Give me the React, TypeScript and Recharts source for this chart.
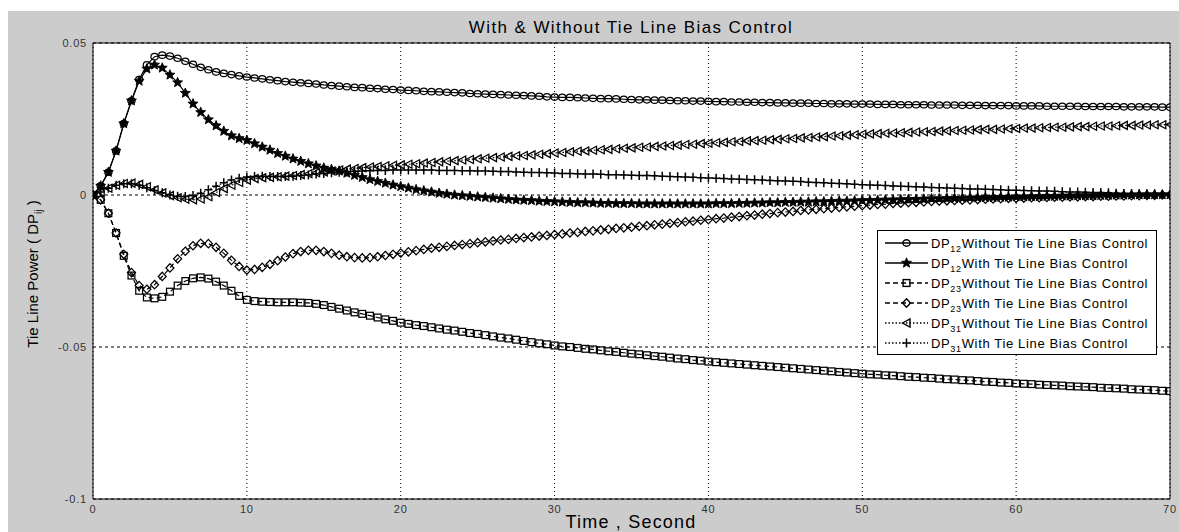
import React from 'react';
import { LineChart, Line, XAxis, YAxis, CartesianGrid, ReferenceLine } from 'recharts';

const TITLE = 'With & Without Tie Line Bias Control';
const X_LABEL = 'Time , Second';
const X_TICKS = [0, 10, 20, 30, 40, 50, 60, 70];
const Y_TICKS = [-0.1, -0.05, 0, 0.05];
const Y_TICK_LABELS = ['-0.1', '-0.05', '0', '0.05'];

const TIME = [
  0, 0.5, 1, 1.5, 2, 2.5, 3, 3.5, 4, 4.5,
  5, 5.5, 6, 6.5, 7, 7.5, 8, 8.5, 9, 9.5,
  10, 10.5, 11, 11.5, 12, 12.5, 13, 13.5, 14, 14.5,
  15, 15.5, 16, 16.5, 17, 17.5, 18, 18.5, 19, 19.5,
  20, 20.5, 21, 21.5, 22, 22.5, 23, 23.5, 24, 24.5,
  25, 25.5, 26, 26.5, 27, 27.5, 28, 28.5, 29, 29.5,
  30, 30.5, 31, 31.5, 32, 32.5, 33, 33.5, 34, 34.5,
  35, 35.5, 36, 36.5, 37, 37.5, 38, 38.5, 39, 39.5,
  40, 40.5, 41, 41.5, 42, 42.5, 43, 43.5, 44, 44.5,
  45, 45.5, 46, 46.5, 47, 47.5, 48, 48.5, 49, 49.5,
  50, 50.5, 51, 51.5, 52, 52.5, 53, 53.5, 54, 54.5,
  55, 55.5, 56, 56.5, 57, 57.5, 58, 58.5, 59, 59.5,
  60, 60.5, 61, 61.5, 62, 62.5, 63, 63.5, 64, 64.5,
  65, 65.5, 66, 66.5, 67, 67.5, 68, 68.5, 69, 69.5,
  70,
];

// DP12 without tie line bias control (circles)
const DP12_WITHOUT = [
  0, 0.003, 0.0075, 0.0145, 0.0235, 0.031, 0.038, 0.0428, 0.0455, 0.046,
  0.0457, 0.045, 0.044, 0.043, 0.042, 0.0412, 0.0405, 0.04, 0.0396, 0.0392,
  0.0388, 0.0385, 0.0382, 0.0379, 0.0376, 0.0373, 0.0371, 0.0369, 0.0367, 0.0365,
  0.0362, 0.036, 0.0358, 0.0356, 0.0354, 0.0353, 0.0351, 0.035, 0.0348, 0.0347,
  0.0345, 0.0344, 0.0343, 0.0341, 0.034, 0.0339, 0.0338, 0.0337, 0.0336, 0.0334,
  0.0333, 0.0332, 0.0331, 0.033, 0.0329, 0.0328, 0.0327, 0.0326, 0.0325, 0.0323,
  0.0322, 0.0321, 0.0321, 0.032, 0.0319, 0.0318, 0.0317, 0.0317, 0.0316, 0.0315,
  0.0314, 0.0313, 0.0313, 0.0312, 0.0312, 0.0311, 0.031, 0.031, 0.0309, 0.0309,
  0.0308, 0.0307, 0.0307, 0.0306, 0.0306, 0.0305, 0.0305, 0.0304, 0.0304, 0.0303,
  0.0303, 0.0302, 0.0302, 0.0302, 0.0301, 0.0301, 0.03, 0.03, 0.03, 0.0299,
  0.0299, 0.0299, 0.0298, 0.0298, 0.0298, 0.0297, 0.0297, 0.0297, 0.0297, 0.0296,
  0.0296, 0.0296, 0.0296, 0.0295, 0.0295, 0.0295, 0.0294, 0.0294, 0.0294, 0.0294,
  0.0293, 0.0293, 0.0293, 0.0293, 0.0292, 0.0292, 0.0292, 0.0292, 0.0292, 0.0291,
  0.0291, 0.0291, 0.0291, 0.0291, 0.029, 0.029, 0.029, 0.029, 0.029, 0.0289,
  0.0289,
];

// DP12 with tie line bias control (stars)
const DP12_WITH = [
  0, 0.003, 0.0075, 0.0145, 0.0235, 0.031, 0.0375, 0.0415, 0.0428, 0.0418,
  0.0395, 0.037, 0.0335, 0.03, 0.0272, 0.0248, 0.0228, 0.021, 0.0195, 0.0186,
  0.018, 0.0169, 0.0158, 0.0148, 0.0137, 0.0128, 0.0119, 0.0111, 0.0103, 0.0096,
  0.0089, 0.0084, 0.0079, 0.0072, 0.0065, 0.0058, 0.0051, 0.0045, 0.0039, 0.0033,
  0.0028, 0.0023, 0.0018, 0.0014, 0.001, 0.0006, 0.0003, 0, -0.0002, -0.0004,
  -0.0006, -0.0008, -0.001, -0.0012, -0.0014, -0.0016, -0.0017, -0.0018, -0.002, -0.0021,
  -0.0022, -0.0023, -0.0024, -0.0025, -0.0025, -0.0026, -0.0027, -0.0027, -0.0028, -0.0028,
  -0.0028, -0.0029, -0.0029, -0.0029, -0.0029, -0.0029, -0.0029, -0.0029, -0.0029, -0.0029,
  -0.0029, -0.0028, -0.0028, -0.0028, -0.0027, -0.0027, -0.0026, -0.0026, -0.0025, -0.0025,
  -0.0024, -0.0024, -0.0023, -0.0023, -0.0022, -0.0022, -0.0021, -0.002, -0.002, -0.0019,
  -0.0018, -0.0018, -0.0017, -0.0016, -0.0016, -0.0015, -0.0014, -0.0014, -0.0013, -0.0012,
  -0.0012, -0.0011, -0.0011, -0.001, -0.0009, -0.0009, -0.0008, -0.0008, -0.0007, -0.0007,
  -0.0006, -0.0006, -0.0005, -0.0005, -0.0004, -0.0004, -0.0003, -0.0003, -0.0002, -0.0002,
  -0.0002, -0.0001, -0.0001, 0, 0, 0, 0.0001, 0.0001, 0.0001, 0.0001,
  0.0001,
];

// DP23 without tie line bias control (squares)
const DP23_WITHOUT = [
  0, -0.0016, -0.006, -0.0125, -0.02, -0.0265, -0.0315, -0.0337, -0.034, -0.0335,
  -0.0318, -0.0298, -0.0283, -0.0274, -0.0271, -0.0275, -0.0285, -0.0298, -0.0315, -0.0332,
  -0.0345, -0.0349, -0.0351, -0.0352, -0.0353, -0.0353, -0.0353, -0.0354, -0.0355, -0.0358,
  -0.0362, -0.0368, -0.0374, -0.038, -0.0386, -0.0391, -0.0397, -0.0403, -0.0409, -0.0414,
  -0.042, -0.0424, -0.0428, -0.0431, -0.0435, -0.0439, -0.0443, -0.0446, -0.045, -0.0454,
  -0.0457, -0.0461, -0.0465, -0.0469, -0.0472, -0.0476, -0.048, -0.0484, -0.0488, -0.0491,
  -0.0495, -0.0498, -0.05, -0.0503, -0.0506, -0.0508, -0.0511, -0.0514, -0.0516, -0.0519,
  -0.0522, -0.0524, -0.0527, -0.053, -0.0532, -0.0535, -0.0538, -0.054, -0.0543, -0.0545,
  -0.0548, -0.055, -0.0552, -0.0554, -0.0556, -0.0558, -0.056, -0.0562, -0.0564, -0.0566,
  -0.0568, -0.057, -0.0572, -0.0574, -0.0576, -0.0578, -0.058, -0.0582, -0.0584, -0.0586,
  -0.0588, -0.059, -0.0591, -0.0593, -0.0594, -0.0596, -0.0598, -0.0599, -0.0601, -0.0602,
  -0.0604, -0.0606, -0.0607, -0.0609, -0.061, -0.0612, -0.0614, -0.0615, -0.0617, -0.0618,
  -0.062, -0.0621, -0.0622, -0.0624, -0.0625, -0.0626, -0.0627, -0.0629, -0.063, -0.0631,
  -0.0632, -0.0634, -0.0635, -0.0636, -0.0637, -0.0639, -0.064, -0.0641, -0.0642, -0.0644,
  -0.0645,
];

// DP23 with tie line bias control (diamonds)
const DP23_WITH = [
  0, -0.0016, -0.006, -0.0125, -0.0195, -0.0255, -0.0298, -0.031, -0.0295, -0.0268,
  -0.024, -0.021, -0.0185, -0.0167, -0.0159, -0.016, -0.0172, -0.0192, -0.0215, -0.0235,
  -0.0247, -0.0245, -0.0238, -0.0228, -0.0216, -0.0204, -0.0193, -0.0186, -0.0182, -0.0182,
  -0.0186, -0.0192, -0.0198, -0.0203, -0.0206, -0.0207, -0.0206, -0.0203, -0.0199, -0.0195,
  -0.0191, -0.0187, -0.0183, -0.0179, -0.0175, -0.0172, -0.0169, -0.0166, -0.0163, -0.016,
  -0.0157, -0.0154, -0.0151, -0.0148, -0.0146, -0.0143, -0.014, -0.0138, -0.0135, -0.0133,
  -0.013, -0.0128, -0.0125, -0.0123, -0.012, -0.0118, -0.0115, -0.0113, -0.011, -0.0108,
  -0.0106, -0.0103, -0.0101, -0.0098, -0.0096, -0.0093, -0.0091, -0.0088, -0.0086, -0.0083,
  -0.0081, -0.0078, -0.0076, -0.0073, -0.0071, -0.0068, -0.0066, -0.0063, -0.0061, -0.0058,
  -0.0056, -0.0054, -0.0051, -0.0049, -0.0047, -0.0045, -0.0043, -0.0041, -0.0039, -0.0037,
  -0.0035, -0.0033, -0.0031, -0.003, -0.0028, -0.0027, -0.0025, -0.0024, -0.0023, -0.0021,
  -0.002, -0.0019, -0.0018, -0.0017, -0.0016, -0.0015, -0.0014, -0.0013, -0.0012, -0.0011,
  -0.0011, -0.001, -0.0009, -0.0009, -0.0008, -0.0007, -0.0007, -0.0006, -0.0006, -0.0005,
  -0.0005, -0.0004, -0.0004, -0.0003, -0.0003, -0.0002, -0.0002, -0.0001, -0.0001, 0,
  0,
];

// DP31 without tie line bias control (triangles)
const DP31_WITHOUT = [
  0, 0.001, 0.0022, 0.0032, 0.0038, 0.0039, 0.0035, 0.0027, 0.0017, 0.0007,
  -0.0002, -0.0009, -0.0014, -0.0016, -0.0013, -0.0006, 0.0008, 0.0021, 0.0032, 0.0041,
  0.0049, 0.0054, 0.0057, 0.0058, 0.006, 0.0062, 0.0064, 0.0067, 0.007, 0.0073,
  0.0076, 0.0079, 0.0082, 0.0085, 0.0087, 0.009, 0.0092, 0.0094, 0.0096, 0.0098,
  0.0099, 0.0101, 0.0103, 0.0105, 0.0107, 0.0109, 0.0111, 0.0113, 0.0115, 0.0117,
  0.0119, 0.0121, 0.0123, 0.0125, 0.0127, 0.0129, 0.013, 0.0132, 0.0134, 0.0136,
  0.0138, 0.014, 0.0142, 0.0144, 0.0145, 0.0147, 0.0149, 0.015, 0.0152, 0.0154,
  0.0155, 0.0157, 0.0158, 0.016, 0.0161, 0.0163, 0.0164, 0.0166, 0.0167, 0.0169,
  0.017, 0.0172, 0.0173, 0.0175, 0.0176, 0.0178, 0.0179, 0.018, 0.0182, 0.0183,
  0.0185, 0.0186, 0.0188, 0.0189, 0.0191, 0.0192, 0.0194, 0.0195, 0.0197, 0.0198,
  0.02, 0.0201, 0.0202, 0.0203, 0.0204, 0.0205, 0.0206, 0.0207, 0.0208, 0.0209,
  0.021, 0.0211, 0.0212, 0.0213, 0.0214, 0.0215, 0.0216, 0.0216, 0.0217, 0.0218,
  0.0219, 0.022, 0.022, 0.0221, 0.0222, 0.0223, 0.0223, 0.0224, 0.0225, 0.0225,
  0.0226, 0.0227, 0.0227, 0.0228, 0.0229, 0.0229, 0.023, 0.023, 0.0231, 0.0231,
  0.0232,
];

// DP31 with tie line bias control (plus)
const DP31_WITH = [
  0, 0.001, 0.0022, 0.0032, 0.0037, 0.0037, 0.0032, 0.0024, 0.0015, 0.0007,
  0, -0.0004, -0.0005, -0.0002, 0.0006, 0.0017, 0.0029, 0.004, 0.0049, 0.0055,
  0.0059, 0.0061, 0.0062, 0.0061, 0.0061, 0.0061, 0.0062, 0.0064, 0.0066, 0.0069,
  0.0071, 0.0073, 0.0075, 0.0076, 0.0078, 0.0079, 0.008, 0.0081, 0.0081, 0.0082,
  0.0082, 0.0082, 0.0082, 0.0082, 0.0082, 0.0081, 0.0081, 0.0081, 0.008, 0.008,
  0.0079, 0.0079, 0.0078, 0.0077, 0.0077, 0.0076, 0.0075, 0.0074, 0.0074, 0.0073,
  0.0072, 0.0071, 0.0071, 0.007, 0.0069, 0.0069, 0.0068, 0.0067, 0.0067, 0.0066,
  0.0065, 0.0064, 0.0064, 0.0063, 0.0062, 0.0061, 0.006, 0.0059, 0.0058, 0.0057,
  0.0056, 0.0055, 0.0054, 0.0053, 0.0052, 0.0051, 0.005, 0.0049, 0.0048, 0.0047,
  0.0046, 0.0045, 0.0044, 0.0042, 0.0041, 0.004, 0.0039, 0.0038, 0.0037, 0.0035,
  0.0034, 0.0033, 0.0032, 0.0031, 0.003, 0.0029, 0.0028, 0.0027, 0.0026, 0.0025,
  0.0024, 0.0023, 0.0022, 0.0021, 0.002, 0.002, 0.0019, 0.0018, 0.0017, 0.0016,
  0.0016, 0.0015, 0.0014, 0.0013, 0.0013, 0.0012, 0.0011, 0.001, 0.001, 0.0009,
  0.0008, 0.0008, 0.0007, 0.0006, 0.0005, 0.0005, 0.0004, 0.0003, 0.0003, 0.0002,
  0.0002,
];

const data = TIME.map((t, i) => ({
  t,
  a: DP12_WITHOUT[i],
  b: DP12_WITH[i],
  c: DP23_WITHOUT[i],
  d: DP23_WITH[i],
  e: DP31_WITHOUT[i],
  f: DP31_WITH[i],
}));

type Shape = 'circle' | 'star' | 'square' | 'diamond' | 'triangle' | 'plus';

const SERIES: { key: string; sub: string; text: string; shape: Shape; dash?: string }[] = [
  { key: 'a', sub: '12', text: 'Without Tie Line Bias Control', shape: 'circle' },
  { key: 'b', sub: '12', text: 'With Tie Line Bias Control', shape: 'star' },
  { key: 'c', sub: '23', text: 'Without Tie Line Bias Control', shape: 'square', dash: '5 3' },
  { key: 'd', sub: '23', text: 'With Tie Line Bias Control', shape: 'diamond', dash: '5 3' },
  { key: 'e', sub: '31', text: 'Without Tie Line Bias Control', shape: 'triangle', dash: '1.5 2' },
  { key: 'f', sub: '31', text: 'With Tie Line Bias Control', shape: 'plus', dash: '1.5 2' },
];

function starPoints(cx: number, cy: number, R: number, r: number) {
  const pts: string[] = [];
  for (let k = 0; k < 10; k++) {
    const rad = k % 2 === 0 ? R : r;
    const ang = (-90 + k * 36) * (Math.PI / 180);
    pts.push(`${cx + rad * Math.cos(ang)},${cy + rad * Math.sin(ang)}`);
  }
  return pts.join(' ');
}

function Marker({ shape, cx, cy, sw = 1.25 }: { shape: Shape; cx: number; cy: number; sw?: number }) {
  const s = { stroke: '#000', strokeWidth: sw, fill: 'none' } as const;
  switch (shape) {
    case 'circle':
      return <ellipse cx={cx} cy={cy} rx={3.6} ry={3.2} {...s} />;
    case 'star':
      return <polygon points={starPoints(cx, cy, 5.2, 2.3)} stroke="#000" strokeWidth={0.9} fill="#000" />;
    case 'square':
      return <rect x={cx - 3.4} y={cy - 3.4} width={6.8} height={6.8} {...s} />;
    case 'diamond':
      return <polygon points={`${cx},${cy - 4.2} ${cx + 4},${cy} ${cx},${cy + 4.2} ${cx - 4},${cy}`} {...s} />;
    case 'triangle':
      return <polygon points={`${cx - 4},${cy} ${cx + 3.5},${cy - 4} ${cx + 3.5},${cy + 4}`} {...s} />;
    case 'plus':
      return <path d={`M${cx - 4},${cy}H${cx + 4}M${cx},${cy - 4.5}V${cy + 4.5}`} stroke="#000" strokeWidth={1.5} fill="none" />;
  }
  return null;
}

const FONT = 'Arial, "Liberation Sans", Helvetica, sans-serif';

function LegendBox() {
  return (
    <div
      style={{
        position: 'absolute',
        left: 869,
        top: 219,
        width: 280,
        height: 125,
        boxSizing: 'border-box',
        border: '1px solid #000',
        background: '#fff',
        fontFamily: FONT,
      }}
    >
      {SERIES.map((s, i) => (
        <div
          key={s.key}
          style={{ position: 'absolute', left: 0, top: 2 + i * 20, height: 20, width: 278, display: 'flex', alignItems: 'center' }}
        >
          <svg width={52} height={20} style={{ display: 'block', flex: 'none' }}>
            <line x1={7} y1={10} x2={50} y2={10} stroke="#000" strokeWidth={1.3} strokeDasharray={s.dash} />
            <Marker shape={s.shape} cx={28.5} cy={10} sw={1.4} />
          </svg>
          <span style={{ fontSize: 13, letterSpacing: 0.65, color: '#000', whiteSpace: 'nowrap', marginLeft: 1 }}>
            DP<sub style={{ fontSize: 9, verticalAlign: -4, lineHeight: 0 }}>{s.sub}</sub>
            {s.text}
          </span>
        </div>
      ))}
    </div>
  );
}

export default function App() {
  return (
    <div
      style={{
        position: 'fixed',
        left: 8,
        top: 11,
        width: 1171,
        height: 521,
        background: '#cccccc',
        fontFamily: FONT,
      }}
    >
      <LineChart width={1171} height={521} data={data} margin={{ top: 32, right: 9, bottom: 0, left: 0 }}>
        <CartesianGrid fill="#ffffff" horizontal={false} stroke="#000" strokeDasharray="1 3" />
        <CartesianGrid vertical={false} stroke="#000" strokeDasharray="3 3" />
        <XAxis
          dataKey="t"
          type="number"
          domain={[0, 70]}
          ticks={X_TICKS}
          allowDataOverflow
          tickLine={false}
          tickSize={4}
          axisLine={{ stroke: '#000' }}
          tick={{ fill: '#333', fontSize: 11, fontFamily: FONT, letterSpacing: 0.8 }}
          height={33}
        />
        <YAxis
          type="number"
          domain={[-0.1, 0.05]}
          ticks={Y_TICKS}
          allowDataOverflow
          tickLine={false}
          tickSize={4}
          axisLine={{ stroke: '#000' }}
          tick={{ fill: '#333', fontSize: 11, fontFamily: FONT, letterSpacing: 0.8 }}
          tickFormatter={(v: number) => Y_TICK_LABELS[Y_TICKS.indexOf(v)] ?? String(v)}
          width={85}
        />
        <ReferenceLine y={0.05} stroke="#000" strokeWidth={1} />
        <ReferenceLine x={70} stroke="#000" strokeWidth={1} />
        {SERIES.map((s) => (
          <Line
            key={s.key}
            type="linear"
            dataKey={s.key}
            stroke="#000"
            strokeWidth={1.2}
            strokeDasharray={s.dash}
            isAnimationActive={false}
            activeDot={false}
            dot={(p: any) => <Marker key={`${s.key}-${p.index}`} shape={s.shape} cx={p.cx} cy={p.cy} />}
          />
        ))}
      </LineChart>
      <div
        style={{
          position: 'absolute',
          left: 323,
          top: 7,
          width: 600,
          textAlign: 'center',
          fontSize: 17,
          letterSpacing: 1.4,
          lineHeight: '20px',
          color: '#000',
        }}
      >
        {TITLE}
      </div>
      <div
        style={{
          position: 'absolute',
          left: 323,
          top: 501,
          width: 600,
          textAlign: 'center',
          fontSize: 18,
          letterSpacing: 1.2,
          lineHeight: '20px',
          color: '#000',
        }}
      >
        {X_LABEL}
      </div>
      <div
        style={{
          position: 'absolute',
          left: 25 - 150,
          top: 263 - 10,
          width: 300,
          height: 20,
          lineHeight: '20px',
          textAlign: 'center',
          fontSize: 15,
          color: '#000',
          transform: 'rotate(-90deg)',
          whiteSpace: 'nowrap',
        }}
      >
        Tie Line Power ( DP<sub style={{ fontSize: 10, verticalAlign: -4, lineHeight: 0 }}>ij</sub> )
      </div>
      <LegendBox />
    </div>
  );
}
